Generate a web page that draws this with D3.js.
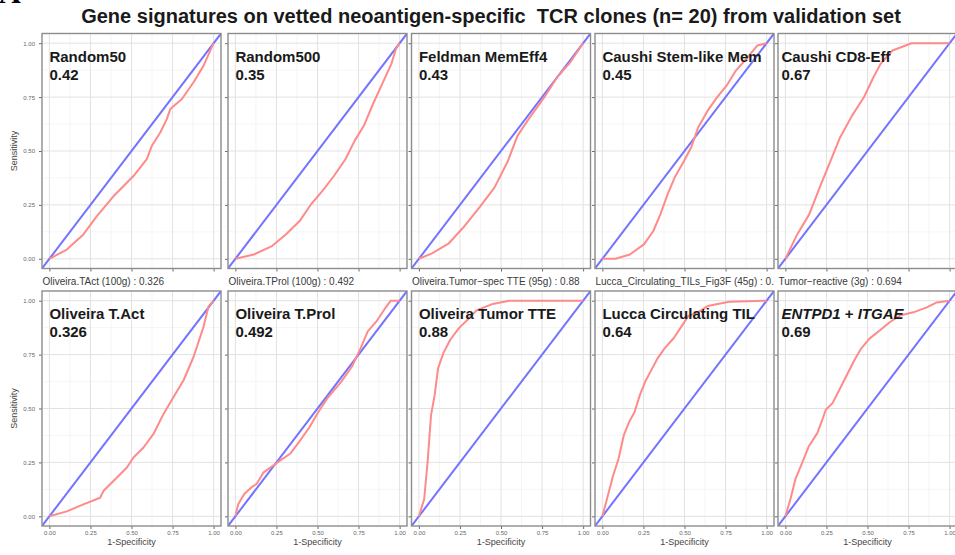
<!DOCTYPE html>
<html>
<head>
<meta charset="utf-8">
<script src="https://cdn.jsdelivr.net/npm/d3@7"></script>
<style>
  body { margin: 0; background: #fff; }
  svg { display: block; font-family: "Liberation Sans", Arial, sans-serif; }
</style>
</head>
<body>
<svg></svg>
<script>
let width = 955, height = 555;

// panel titles and AUC values
const panelNames = ["Random50", "Random500", "Feldman MemEff4", "Caushi Stem-like Mem", "Caushi CD8-Eff",
                    "Oliveira T.Act", "Oliveira T.Prol", "Oliveira Tumor TTE", "Lucca Circulating TIL", "ENTPD1 + ITGAE"];
const panelAUC = ["0.42", "0.35", "0.43", "0.45", "0.67", "0.326", "0.492", "0.88", "0.64", "0.69"];
// titles of the bottom-row plots, shown between the rows
const captions = ["Oliveira.TAct (100g) : 0.326", "Oliveira.TProl (100g) : 0.492",
                  "Oliveira.Tumor\u2212spec TTE (95g) : 0.88", "Lucca_Circulating_TILs_Fig3F (45g) : 0.64",
                  "Tumor\u2212reactive (3g) : 0.694"];
const tickValues = [0, 0.25, 0.5, 0.75, 1];
const tickLabels = ["0.00", "0.25", "0.50", "0.75", "1.00"];

// ROC curves: 1-specificity (x) and sensitivity (y)
const random50X = [0, 0.106, 0.207, 0.289, 0.39, 0.512, 0.593, 0.624, 0.675, 0.715, 0.736, 0.807, 0.878, 0.939, 1];
const random50Y = [0, 0.043, 0.113, 0.198, 0.29, 0.384, 0.462, 0.524, 0.586, 0.648, 0.695, 0.741, 0.819, 0.896, 1];
const random500X = [0, 0.112, 0.223, 0.307, 0.391, 0.461, 0.53, 0.6, 0.67, 0.726, 0.782, 0.838, 0.894, 0.95, 0.978, 1];
const random500Y = [0, 0.02, 0.059, 0.113, 0.175, 0.253, 0.315, 0.384, 0.462, 0.547, 0.617, 0.718, 0.811, 0.904, 0.974, 1];
const feldmanX = [0, 0.08, 0.18, 0.27, 0.37, 0.46, 0.54, 0.6, 0.67, 0.76, 0.84, 0.92, 1];
const feldmanY = [0, 0.025, 0.07, 0.145, 0.24, 0.33, 0.45, 0.57, 0.65, 0.745, 0.84, 0.91, 1];
const stemX = [0, 0.08, 0.167, 0.253, 0.31, 0.353, 0.397, 0.44, 0.497, 0.54, 0.583, 0.641, 0.698, 0.756, 0.813, 0.885, 0.943, 1];
const stemY = [0, 0, 0.02, 0.067, 0.129, 0.206, 0.299, 0.377, 0.454, 0.516, 0.609, 0.687, 0.749, 0.803, 0.873, 0.935, 0.989, 1];
const cd8X = [0, 0.072, 0.145, 0.217, 0.275, 0.333, 0.406, 0.478, 0.536, 0.58, 0.652, 0.768, 1];
const cd8Y = [0, 0.113, 0.206, 0.346, 0.454, 0.563, 0.664, 0.749, 0.842, 0.904, 0.966, 1, 1];
const tactX = [0, 0.106, 0.207, 0.309, 0.329, 0.41, 0.472, 0.512, 0.573, 0.634, 0.695, 0.756, 0.817, 0.878, 0.939, 0.969, 1];
const tactY = [0, 0.023, 0.055, 0.086, 0.117, 0.179, 0.226, 0.273, 0.319, 0.382, 0.475, 0.553, 0.631, 0.74, 0.88, 0.974, 1];
const tprolX = [0, 0.017, 0.054, 0.097, 0.129, 0.172, 0.215, 0.258, 0.333, 0.387, 0.452, 0.505, 0.559, 0.645, 0.71, 0.763, 0.806, 0.86, 0.914, 0.946, 1];
const tprolY = [0, 0.056, 0.103, 0.134, 0.15, 0.204, 0.227, 0.251, 0.29, 0.344, 0.414, 0.484, 0.547, 0.625, 0.695, 0.78, 0.858, 0.905, 0.967, 1, 1];
const tteX = [0, 0.032, 0.053, 0.074, 0.096, 0.117, 0.149, 0.191, 0.245, 0.298, 0.351, 0.45, 0.55, 1];
const tteY = [0, 0.079, 0.251, 0.469, 0.562, 0.687, 0.757, 0.819, 0.874, 0.913, 0.955, 0.985, 1, 1];
const luccaX = [0, 0.033, 0.065, 0.098, 0.13, 0.163, 0.196, 0.228, 0.261, 0.293, 0.337, 0.38, 0.435, 0.489, 0.522, 0.576, 0.641, 0.772, 1];
const luccaY = [0, 0.095, 0.188, 0.266, 0.375, 0.438, 0.484, 0.562, 0.625, 0.671, 0.734, 0.78, 0.827, 0.889, 0.928, 0.944, 0.975, 0.995, 1];
const entpdX = [0, 0.031, 0.061, 0.102, 0.143, 0.195, 0.225, 0.246, 0.287, 0.328, 0.369, 0.42, 0.461, 0.512, 0.574, 0.635, 0.697, 0.779, 0.861, 0.922, 1];
const entpdY = [0, 0.08, 0.172, 0.248, 0.325, 0.387, 0.448, 0.494, 0.525, 0.586, 0.647, 0.724, 0.778, 0.824, 0.862, 0.9, 0.931, 0.946, 0.969, 0.992, 1];

const curvesX = [random50X, random500X, feldmanX, stemX, cd8X, tactX, tprolX, tteX, luccaX, entpdX];
const curvesY = [random50Y, random500Y, feldmanY, stemY, cd8Y, tactY, tprolY, tteY, luccaY, entpdY];

// layout
const colLeft = [42, 228, 411.5, 595, 778];
const rowTop = [33.5, 291];
const panelW = 179, panelH = 235;
const pad = 0.045;

let svg = d3.select("svg")
    .attr("width", width)
    .attr("height", height)
    .attr("viewBox", "0 0 " + width + " " + height);

let defs = svg.append("defs");

// Figure letter, mostly cut off at the top
svg.append("text")
    .attr("x", -1).attr("y", 3)
    .style("font-family", "'Liberation Serif', serif")
    .style("font-weight", "bold")
    .style("font-size", "30px")
    .text("A");

// Title
svg.append("text")
    .attr("x", 491).attr("y", 23)
    .attr("text-anchor", "middle")
    .style("font-weight", "bold")
    .style("font-size", "20px")
    .style("fill", "#1a1a1a")
    .style("white-space", "pre")
    .text("Gene signatures on vetted neoantigen-specific  TCR clones (n= 20) from validation set");

panelNames.forEach((name, i) => {
    let r = Math.floor(i / 5), c = i % 5;
    let left = colLeft[c], top = rowTop[r];

    let x = d3.scaleLinear().domain([-pad, 1 + pad]).range([left, left + panelW]);
    let y = d3.scaleLinear().domain([-pad, 1 + pad]).range([top + panelH, top]);

    defs.append("clipPath").attr("id", "clip" + i)
        .append("rect")
        .attr("x", left).attr("y", top)
        .attr("width", panelW).attr("height", panelH);

    let g = svg.append("g").attr("class", "panel");

    g.append("rect")
        .attr("x", left).attr("y", top)
        .attr("width", panelW).attr("height", panelH)
        .attr("fill", "#fff");

    // grid
    let minor = [0.125, 0.375, 0.625, 0.875];
    let grid = g.append("g").attr("clip-path", "url(#clip" + i + ")");
    grid.selectAll(".mx").data(minor).enter().append("line")
        .attr("x1", d => x(d)).attr("x2", d => x(d))
        .attr("y1", top).attr("y2", top + panelH)
        .attr("stroke", "#f0f0f0").attr("stroke-width", 0.7);
    grid.selectAll(".my").data(minor).enter().append("line")
        .attr("y1", d => y(d)).attr("y2", d => y(d))
        .attr("x1", left).attr("x2", left + panelW)
        .attr("stroke", "#f0f0f0").attr("stroke-width", 0.7);
    grid.selectAll(".gx").data(tickValues).enter().append("line")
        .attr("x1", d => x(d)).attr("x2", d => x(d))
        .attr("y1", top).attr("y2", top + panelH)
        .attr("stroke", "#e2e2e2").attr("stroke-width", 1);
    grid.selectAll(".gy").data(tickValues).enter().append("line")
        .attr("y1", d => y(d)).attr("y2", d => y(d))
        .attr("x1", left).attr("x2", left + panelW)
        .attr("stroke", "#e2e2e2").attr("stroke-width", 1);

    // axes
    let yAxis = d3.axisLeft(y).tickValues(tickValues).tickSize(3).tickPadding(4)
        .tickFormat((d, k) => c == 0 ? tickLabels[k] : "");
    let ya = g.append("g").attr("transform", "translate(" + left + ",0)").call(yAxis);
    let xAxis = d3.axisBottom(x).tickValues(tickValues).tickSize(3).tickPadding(2)
        .tickFormat((d, k) => r == 1 ? tickLabels[k] : "");
    let xa = g.append("g").attr("transform", "translate(0," + (top + panelH) + ")").call(xAxis);
    [ya, xa].forEach(a => {
        a.select(".domain").remove();
        a.selectAll(".tick line").attr("stroke", "#444").attr("stroke-width", 0.8);
        a.selectAll(".tick text").attr("fill", "#666").style("font-size", "6px");
    });

    if (c == 0) {
        g.append("text")
            .attr("transform", "translate(17," + (top + panelH / 2) + ") rotate(-90)")
            .attr("text-anchor", "middle")
            .style("font-size", "9px")
            .style("fill", "#444")
            .text("Sensitivity");
    }
    if (r == 1) {
        g.append("text")
            .attr("x", left + panelW / 2).attr("y", top + panelH + 19)
            .attr("text-anchor", "middle")
            .style("font-size", "9px")
            .style("fill", "#444")
            .text("1-Specificity");
    }

    // curves
    let lines = g.append("g").attr("clip-path", "url(#clip" + i + ")");
    lines.append("path")
        .datum([-pad, 1 + pad])
        .attr("d", d3.line().x(d => x(d)).y(d => y(d)))
        .attr("fill", "none")
        .attr("stroke", "#7373ff")
        .attr("stroke-width", 2);
    let pts = curvesX[i].map((v, k) => [v, curvesY[i][k]]);
    lines.append("path")
        .datum(pts)
        .attr("d", d3.line().x(d => x(d[0])).y(d => y(d[1])))
        .attr("fill", "none")
        .attr("stroke", "#ff8a8a")
        .attr("stroke-width", 2)
        .attr("stroke-linejoin", "round");

    // border
    g.append("rect")
        .attr("x", left).attr("y", top)
        .attr("width", panelW).attr("height", panelH)
        .attr("fill", "none")
        .attr("stroke", "#8c8c8c")
        .attr("stroke-width", 1.4);

    // label inside the panel
    let lx = x(0) - (c == 4 ? 4 : 0);
    let lab = g.append("text")
        .attr("x", lx).attr("y", top + 28)
        .style("font-weight", "bold")
        .style("font-size", "15px")
        .style("fill", "#1a1a1a");
    if (name == "ENTPD1 + ITGAE") {
        lab.append("tspan").style("font-style", "italic").text("ENTPD1");
        lab.append("tspan").text(" + ");
        lab.append("tspan").style("font-style", "italic").text("ITGAE");
    } else {
        lab.text(name);
    }
    g.append("text")
        .attr("x", lx).attr("y", top + 46)
        .style("font-weight", "bold")
        .style("font-size", "15px")
        .style("fill", "#1a1a1a")
        .text(panelAUC[i]);
});

// captions between rows (titles of the bottom-row plots, cut by the neighbour)
captions.forEach((t, c) => {
    defs.append("clipPath").attr("id", "cap" + c)
        .append("rect")
        .attr("x", colLeft[c]).attr("y", 270)
        .attr("width", (c < 4 ? colLeft[c + 1] - colLeft[c] - 4 : 200)).attr("height", 20);
    svg.append("text")
        .attr("x", colLeft[c] + 0.5).attr("y", 285)
        .attr("clip-path", "url(#cap" + c + ")")
        .style("font-size", "10px")
        .style("fill", "#3a3a3a")
        .text(t);
});
</script>
</body>
</html>
